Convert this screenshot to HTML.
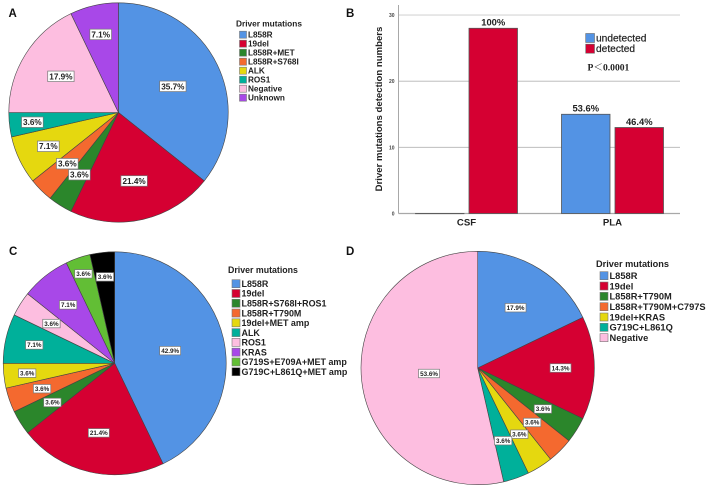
<!DOCTYPE html>
<html lang="en">
<head>
<meta charset="utf-8">
<title>Driver mutations figure</title>
<style>
html,body{margin:0;padding:0;background:#fff;}
body{width:708px;height:488px;overflow:hidden;}
svg{display:block;font-family:"Liberation Sans",sans-serif;filter:blur(0.3px);}
</style>
</head>
<body>
<svg id="fig" xmlns="http://www.w3.org/2000/svg" width="708" height="488" viewBox="0 0 708 488">
  <rect width="708" height="488" fill="#fff"/>
  <text x="8.5" y="17" font-size="11.5" font-weight="bold" fill="#111">A</text>
  <text x="346" y="17" font-size="11.5" font-weight="bold" fill="#111">B</text>
  <text x="9" y="255" font-size="11.5" font-weight="bold" fill="#111">C</text>
  <text x="346" y="255" font-size="11.5" font-weight="bold" fill="#111">D</text>
  <text x="587.5" y="70.5" font-size="9.6" font-weight="bold" fill="#222" font-family="'Liberation Serif','Noto Serif CJK SC',serif">P＜0.0001</text>
</svg>
<script>
// Panel A data
const categoriesA = ['L858R','19del','L858R+MET','L858R+S768I','ALK','ROS1','Negative','Unknown'];
const valuesA = [10,6,1,1,2,1,5,2];
const printedA = ['35.7%','21.4%','3.6%','3.6%','7.1%','3.6%','17.9%','7.1%'];
const colorKeysA = ['blue','red','green','orange','yellow','teal','pink','purple'];

// Panel C data
const categoriesC = ['L858R','19del','L858R+S768I+ROS1','L858R+T790M','19del+MET amp','ALK','ROS1','KRAS','G719S+E709A+MET amp','G719C+L861Q+MET amp'];
const valuesC = [12,6,1,1,1,2,1,2,1,1];
const printedC = ['42.9%','21.4%','3.6%','3.6%','3.6%','7.1%','3.6%','7.1%','3.6%','3.6%'];
const colorKeysC = ['blue','red','green','orange','yellow','teal','pink','purple','lime','black'];

// Panel D data
const categoriesD = ['L858R','19del','L858R+T790M','L858R+T790M+C797S','19del+KRAS','G719C+L861Q','Negative'];
const valuesD = [5,4,1,1,1,1,15];
const printedD = ['17.9%','14.3%','3.6%','3.6%','3.6%','3.6%','53.6%'];
const colorKeysD = ['blue','red','green','orange','yellow','teal','pink'];

// Panel B data
const barCategories = ['CSF','PLA'];
const undetectedCounts = [0,15];
const detectedCounts = [28,13];
const undetectedPrinted = ['','53.6%'];
const detectedPrinted = ['100%','46.4%'];
const yTicks = [0,10,20,30];
const barLegend = ['undetected','detected'];
const yAxisTitle = 'Driver mutations detection numbers';
const legendTitle = 'Driver mutations';

// Label placement along each slice radius (fraction of radius)
const labelReachA = [.55,.64,.67,.66,.71,.79,.62,.73];
const labelReachC = [.51,.64,.66,.69,.79,.74,.67,.67,.85,.78];
const labelReachD = [.61,.71,.66,.66,.67,.66,.42];

const palette = {blue:'#5393E4',red:'#D50032',green:'#2B862B',orange:'#F4692F',yellow:'#E5D80F',teal:'#00B09A',pink:'#FDBEE0',purple:'#A848E8',lime:'#62BE35',black:'#000'};
const svg = document.getElementById('fig');
const NS = 'http://www.w3.org/2000/svg';

function make(tag, props, text){
  const el = document.createElementNS(NS, tag);
  for (const k in props) el.setAttribute(k, props[k]);
  if (text !== undefined) el.textContent = text;
  svg.appendChild(el);
  return el;
}

function drawPie(panel, cx, cy, r, values, printed, keys, reach, fontSize, boxH){
  const total = values.reduce((a,b)=>a+b,0);
  const point = (frac, rad) => {
    const t = frac * 2 * Math.PI;
    return [cx + rad * Math.sin(t), cy - rad * Math.cos(t)];
  };
  let run = 0;
  values.forEach((v,i)=>{
    const a = point(run/total, r), b = point((run+v)/total, r);
    const large = v/total > 0.5 ? 1 : 0;
    const slice = make('path', {
      d:`M${cx},${cy}L${a[0]},${a[1]}A${r},${r} 0 ${large} 1 ${b[0]},${b[1]}Z`,
      fill:palette[keys[i]], stroke:'#444', 'stroke-width':0.6, 'stroke-linejoin':'round'
    });
    
    
    run += v;
  });
  run = 0;
  values.forEach((v,i)=>{
    const c = point((run + v/2)/total, r*reach[i]);
    const w = printed[i].length * fontSize * 0.57 + 3;
    const box = make('rect', {
      x:c[0]-w/2, y:c[1]-boxH/2, width:w, height:boxH,
      fill:'#fff', stroke:'#777', 'stroke-width':0.7
    });
    
    
    const label = make('text', {
      x:c[0], y:c[1]+fontSize*0.36, 'font-size':fontSize, 'font-weight':'bold',
      'text-anchor':'middle', fill:'#222'
    }, printed[i]);
    
    
    run += v;
  });
}

function drawLegend(panel, titleX, titleY, swatchX, firstY, step, swatch, names, keys, fontSize, titleSize){
  const title = make('text', {x:titleX, y:titleY, 'font-size':titleSize, 'font-weight':'bold', fill:'#222'}, legendTitle);
  
  
  names.forEach((n,i)=>{
    const cy = firstY + i*step;
    const sw = make('rect', {x:swatchX, y:cy-swatch/2, width:swatch, height:swatch, fill:palette[keys[i]], stroke:'#777', 'stroke-width':0.6});
    
    
    const t = make('text', {x:swatchX+swatch+1.5, y:cy+fontSize*0.36, 'font-size':fontSize, 'font-weight':'bold', fill:'#222'}, n);
    
    
  });
}

drawPie('a', 118.5, 112.5, 109.7, valuesA, printedA, colorKeysA, labelReachA, 8.2, 10.5);
drawLegend('a', 236, 26.5, 239.5, 34.7, 9, 7, categoriesA, colorKeysA, 8.2, 8.3);

drawPie('c', 114.7, 363.3, 111.5, valuesC, printedC, colorKeysC, labelReachC, 6.3, 8.5);
drawLegend('c', 228, 272.8, 232, 283.7, 9.78, 8, categoriesC, colorKeysC, 8.95, 8.8);

drawPie('d', 477.7, 368, 116.7, valuesD, printedD, colorKeysD, labelReachD, 6.3, 8.5);
drawLegend('d', 596, 267.2, 600, 275.7, 10.33, 8, categoriesD, colorKeysD, 9.3, 9.2);

// Panel B axes
const yScale = v => 213.5 - v * 6.615;
const xLeft = 398.5, xRight = 680;
const groupCenter = [491 - 24.5, 612.5];
const barW = 48.5, barGap = 5;

yTicks.forEach(t=>{
  if (t !== 0) {
    const g = make('line', {x1:xLeft, x2:xRight, y1:yScale(t), y2:yScale(t), stroke:t===30?'#e2e2e2':'#b4b4b4', 'stroke-width':t===30?1.6:0.9});
    
    
  }
  const lab = make('text', {x:394.5, y:yScale(t)+2, 'font-size':5, 'font-weight':'bold', 'text-anchor':'end', fill:'#444'}, String(t));
  
  
});

const yAxis = make('line', {x1:xLeft, x2:xLeft, y1:5, y2:yScale(0), stroke:'#a8a8a8', 'stroke-width':1});



const xAxis = make('line', {x1:xLeft, x2:xRight, y1:yScale(0), y2:yScale(0), stroke:'#a8a8a8', 'stroke-width':1.2});



function drawBar(cx, val, color, printed, name){
  const top = yScale(val), bottom = yScale(0);
  const bar = make('rect', {x:cx, y:top, width:barW, height:Math.max(bottom-top, 0.2), fill:color, stroke:'#555', 'stroke-width':0.8});
  
  
  if (printed) {
    const t = make('text', {x:cx+barW/2, y:top-2.7, 'font-size':9.4, 'font-weight':'bold', 'text-anchor':'middle', fill:'#222'}, printed);
    
    
  }
}

barCategories.forEach((c,i)=>{
  const gc = groupCenter[i];
  drawBar(gc - barW - barGap/2, undetectedCounts[i], palette.blue, undetectedPrinted[i], 'bar-undetected-' + c.toLowerCase());
  drawBar(gc + barGap/2, detectedCounts[i], palette.red, detectedPrinted[i], 'bar-detected-' + c.toLowerCase());
  const lab = make('text', {x:gc, y:225.5, 'font-size':9.6, 'font-weight':'bold', 'text-anchor':'middle', fill:'#222'}, c);
  
  
});

const yTitle = make('text', {x:0, y:0, transform:'translate(382,109) rotate(-90)', 'font-size':9.6, 'font-weight':'bold', 'text-anchor':'middle', fill:'#222'}, yAxisTitle);



barLegend.forEach((n,i)=>{
  const y0 = 33.5 + i*10.7;
  const sw = make('rect', {x:585.7, y:y0, width:8.8, height:9, fill:i===0?palette.blue:palette.red, stroke:'#666', 'stroke-width':0.6});
  
  
  const t = make('text', {x:596, y:y0+8, 'font-size':10.2, fill:'#222', stroke:'#222', 'stroke-width':0.2}, n);
  
  
});
</script>
</body>
</html>
